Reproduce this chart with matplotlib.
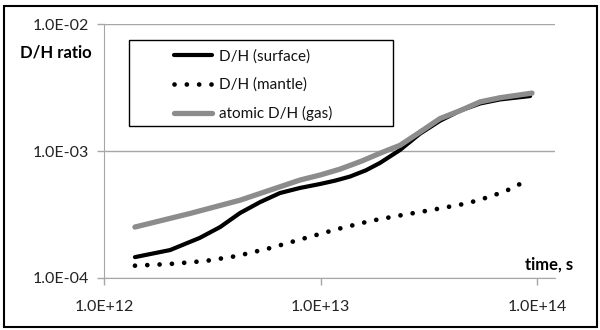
import matplotlib.pyplot as plt
import numpy as np
from matplotlib.patches import Rectangle
from matplotlib.ticker import FixedLocator, NullLocator

plt.rcParams['font.family'] = ['Lato', 'DejaVu Sans']

# time, s
t_surface = [1.39e12, 2.02e12, 2.77e12, 3.44e12, 4.25e12, 5.26e12, 6.5e12, 8.04e12, 9.95e12,
             1.17e13, 1.37e13, 1.62e13, 1.88e13, 2.33e13, 2.88e13, 3.56e13, 4.41e13, 5.46e13,
             6.75e13, 9.29e13]
dh_surface = [1.46e-4, 1.66e-4, 2.07e-4, 2.52e-4, 3.25e-4, 3.96e-4, 4.67e-4, 5.12e-4, 5.50e-4,
              5.85e-4, 6.30e-4, 7.05e-4, 8.05e-4, 1.02e-3, 1.37e-3, 1.73e-3, 2.08e-3, 2.37e-3,
              2.55e-3, 2.71e-3]

t_mantle = [1.39e12, 2.02e12, 2.93e12, 4.11e12, 5.85e12, 8.22e12, 1.21e13, 1.71e13, 2.28e13,
            3.31e13, 4.75e13, 6.14e13, 7.67e13, 8.53e13]
dh_mantle = [1.25e-4, 1.29e-4, 1.36e-4, 1.49e-4, 1.72e-4, 2.03e-4, 2.44e-4, 2.82e-4, 3.09e-4,
             3.45e-4, 3.87e-4, 4.40e-4, 5.08e-4, 5.62e-4]

t_gas = [1.39e12, 2.51e12, 4.25e12, 8.04e12, 9.95e12, 1.23e13, 1.55e13, 1.88e13, 2.33e13,
         2.88e13, 3.56e13, 4.41e13, 5.46e13, 6.75e13, 9.48e13]
dh_gas = [2.52e-4, 3.23e-4, 4.1e-4, 5.91e-4, 6.47e-4, 7.2e-4, 8.34e-4, 9.6e-4, 1.11e-3,
          1.41e-3, 1.80e-3, 2.08e-3, 2.44e-3, 2.63e-3, 2.86e-3]

xticks = [1e12, 1e13, 1e14]
xticklabels = ["1.0E+12", "1.0E+13", "1.0E+14"]
yticks = [1e-4, 1e-3, 1e-2]
yticklabels = ["1.0E-04", "1.0E-03", "1.0E-02"]

fig = plt.figure(figsize=(6, 3.3), dpi=100)
ax = fig.add_axes([0.1733, 0.1576, 0.7517, 0.7694])

grid_c = "#a6a6a6"
ax.plot(t_mantle, dh_mantle, color="black", lw=3.4, linestyle=(0, (0.01, 2.6)),
        dash_capstyle="round", label="D/H (mantle)", zorder=3)
ax.plot(t_surface, dh_surface, color="black", lw=3, solid_capstyle="round",
        solid_joinstyle="round", label="D/H (surface)", zorder=4)
ax.plot(t_gas, dh_gas, color="#8c8c8c", lw=3.8, solid_capstyle="round",
        solid_joinstyle="round", label="atomic D/H (gas)", zorder=5)

ax.set_xscale("log")
ax.set_yscale("log")
ax.set_xlim(1e12, 10 ** 14.083)
ax.set_ylim(1e-4, 1e-2)

ax.xaxis.set_major_locator(FixedLocator(xticks))
ax.xaxis.set_minor_locator(NullLocator())
ax.yaxis.set_major_locator(FixedLocator(yticks))
ax.yaxis.set_minor_locator(NullLocator())
ax.set_xticklabels(xticklabels)
ax.set_yticklabels(yticklabels)
ax.tick_params(axis="both", colors=grid_c, labelcolor="#222222", labelsize=11.5,
               length=5, width=1)
ax.tick_params(axis="x", pad=11)
ax.tick_params(axis="y", pad=6)

for s in ["top", "right"]:
    ax.spines[s].set_visible(False)
for s in ["left", "bottom"]:
    ax.spines[s].set_color(grid_c)
ax.grid(axis="y", color=grid_c, lw=1)
ax.set_axisbelow(True)

h, l = ax.get_legend_handles_labels()
order = [1, 0, 2]
leg = ax.legend([h[i] for i in order], [l[i] for i in order],
                loc="upper left", bbox_to_anchor=(174 / 600, 1 - 49 / 330),
                bbox_transform=fig.transFigure, frameon=False, fontsize=11,
                handlelength=2.5, handletextpad=0.45, labelspacing=0.93,
                borderpad=0, borderaxespad=0)
for txt in leg.get_texts():
    txt.set_color("#111111")

# legend box
fig.patches.append(Rectangle((129 / 600, 1 - 126 / 330), 264 / 600, 86 / 330,
                             transform=fig.transFigure, fill=False,
                             edgecolor="black", lw=1, zorder=6))

fig.text(20 / 600, 1 - 53 / 330, "D/H ratio", fontsize=12, fontweight="bold",
         va="center", ha="left")
fig.text(573 / 600, 1 - 265 / 330, "time, s", fontsize=12, fontweight="bold",
         va="center", ha="right")

fig.patches.append(Rectangle((4 / 600, 3 / 330), 593 / 600, 321 / 330,
                             transform=fig.transFigure, fill=False,
                             edgecolor="black", lw=1.5))

fig.savefig("out.png", dpi=100)
